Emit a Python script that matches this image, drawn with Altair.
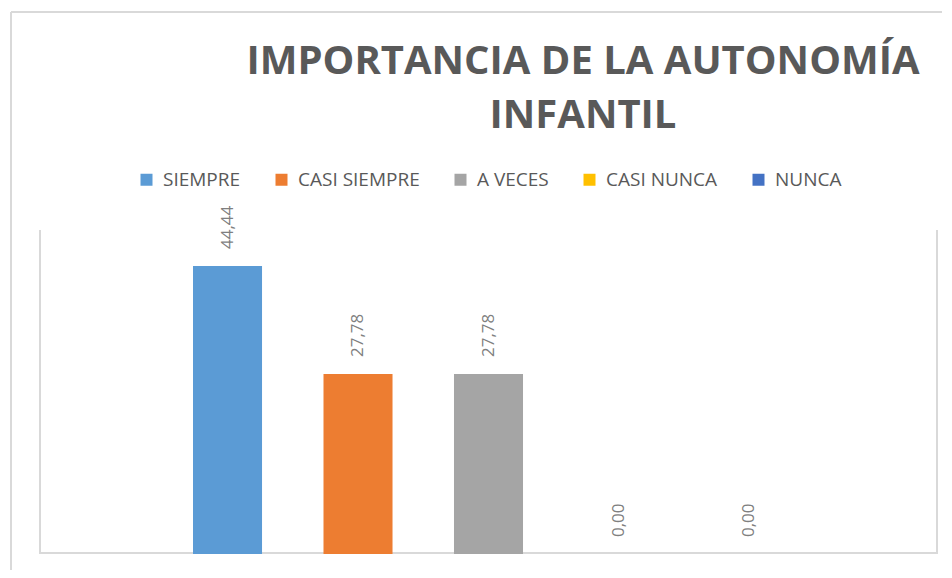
import altair as alt
import pandas as pd

categories = ["SIEMPRE", "CASI SIEMPRE", "A VECES", "CASI NUNCA", "NUNCA"]
values = [44.44, 27.78, 27.78, 0.00, 0.00]
colors = ["#5B9BD5", "#ED7D31", "#A5A5A5", "#FFC000", "#4472C4"]
title_lines = ["IMPORTANCIA DE LA AUTONOMÍA", "INFANTIL"]

df = pd.DataFrame({
    "cat": categories,
    "val": values,
    "label": [f"{v:.2f}".replace(".", ",") for v in values],
})

W, H = 898, 324
FONT = "Open Sans"
GRID = "#D9D9D9"
TXT = "#595959"

xs = alt.Scale(domain=categories, paddingInner=0.471, paddingOuter=0, range=[153, 744])
ys = alt.Scale(domain=[0, 50], nice=False, zero=True)

base = alt.Chart(df)

bars = base.mark_bar().encode(
    x=alt.X("cat:N", scale=xs, axis=None, sort=categories),
    y=alt.Y("val:Q", scale=ys, axis=None),
    color=alt.Color(
        "cat:N",
        scale=alt.Scale(domain=categories, range=colors),
        sort=categories,
        legend=alt.Legend(
            orient="none", legendX=97, legendY=-60, direction="horizontal",
            columns=5, title=None, symbolType="square", symbolSize=144,
            symbolStrokeWidth=0, labelFont=FONT, labelFontSize=19,
            labelColor=TXT, labelOffset=7, columnPadding=31, padding=0,
        ),
    ),
)

labels = base.mark_text(
    angle=270, align="left", baseline="middle", dx=17,
    font=FONT, fontSize=17, color="#7F7F7F",
).encode(
    x=alt.X("cat:N", scale=xs, sort=categories),
    y=alt.Y("val:Q", scale=ys),
    text="label:N",
)

one = alt.Data(values=[{"k": 1}])
frame_left = alt.Chart(one).mark_rule(color=GRID, strokeWidth=2).encode(
    x=alt.value(0), y=alt.value(0), y2=alt.value(H))
frame_right = alt.Chart(one).mark_rule(color=GRID, strokeWidth=2).encode(
    x=alt.value(W - 1), y=alt.value(0), y2=alt.value(H))
frame_bottom = alt.Chart(one).mark_rule(color=GRID, strokeWidth=2).encode(
    x=alt.value(0), x2=alt.value(W), y=alt.value(H - 1))
outer_top = alt.Chart(one).mark_rule(color=GRID, strokeWidth=2).encode(
    x=alt.value(-29), x2=alt.value(W + 20), y=alt.value(-218))
outer_left = alt.Chart(one).mark_rule(color=GRID, strokeWidth=2).encode(
    x=alt.value(-29), y=alt.value(-218), y2=alt.value(H + 40))

chart = alt.layer(
    outer_top, outer_left, frame_left, frame_right, frame_bottom, bars, labels
).properties(
    width=W, height=H,
    autosize=alt.AutoSizeParams(type="none"),
    padding={"left": 32, "top": 222, "right": 4, "bottom": 16},
    title=alt.TitleParams(
        text=title_lines, font=FONT, fontSize=40, fontWeight="bold",
        color=TXT, anchor="middle", frame="group", dx=94, dy=125,
        lineHeight=54, offset=0,
    ),
).configure_view(stroke=None)

chart.save("out.html", embed_options={"renderer": "svg", "actions": False})
